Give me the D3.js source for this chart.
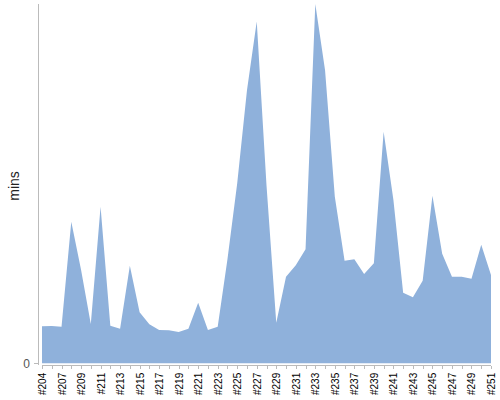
<!DOCTYPE html>
<html>
<head>
<meta charset="utf-8">
<script src="https://cdn.jsdelivr.net/npm/d3@7"></script>
<style>
  body { margin: 0; background: #fff; }
  svg { font-family: Arial, "Liberation Sans", sans-serif; }
  .axis path, .axis line { stroke: #bbb; shape-rendering: crispEdges; }
</style>
</head>
<body>
<div id="chart"></div>
<script>
'use strict';

// build numbers along the x axis (one is skipped after #204)
var builds = ['#204', '#205'];
for (var b = 207; b <= 251; b++) builds.push('#' + b);

// duration of each build, in minutes
var mins = [
  18.5, 18.7, 18.3, 70.8, 46.7, 19.7, 78.3, 18.8, 17.3, 48.7,
  25.5, 19.5, 16.7, 16.5, 15.7, 17.3, 30.3, 16.7, 18.3, 52.0,
  90.0, 136.5, 170.8, 89.0, 20.3, 43.3, 49.0, 57.0, 179.6, 146.5,
  83.3, 51.3, 52.0, 44.7, 50.0, 115.8, 81.7, 35.3, 33.0, 41.3,
  83.7, 54.7, 43.3, 43.3, 42.3, 59.2, 44.2
];

var yTicks = [0];
var yLabel = 'mins';

var margin = {top: 4, right: 9, bottom: 36.7, left: 38};
var width = 500 - margin.left - margin.right;
var height = 400 - margin.top - margin.bottom;

var data = builds.map(function (d, i) {
  return {build: d, value: mins[i]};
});

var svg = d3.select('#chart')
  .append('svg')
  .attr('width', 500)
  .attr('height', 400);

var g = svg.append('g')
  .attr('transform', 'translate(' + margin.left + ',' + margin.top + ')');

var x = d3.scalePoint()
  .domain(builds)
  .range([4, width]);

var y = d3.scaleLinear()
  .domain([0, d3.max(mins)])
  .range([height, 0]);

// the area itself
var area = d3.area()
  .x(function (d) { return x(d.build); })
  .y0(y(0))
  .y1(function (d) { return y(d.value); });

g.append('path')
  .datum(data)
  .attr('fill', '#8fb1db')
  .attr('d', area);

// x axis, every other label
var xAxis = g.append('g')
  .attr('class', 'axis')
  .attr('transform', 'translate(0,' + (height + 2.5) + ')')
  .call(d3.axisBottom(x)
    .tickSize(3)
    .tickSizeOuter(0)
    .tickFormat(function (d, i) { return i % 2 === 0 ? d : ''; }));

xAxis.select('.domain').attr('d', 'M' + x(builds[0]) + ',0H' + x(builds[builds.length - 1]));

xAxis.selectAll('text')
  .attr('fill', '#000')
  .style('font-size', '10px')
  .attr('transform', 'rotate(-90)')
  .attr('text-anchor', 'end')
  .attr('x', -7)
  .attr('y', 0)
  .attr('dy', '0.35em');

// y axis, only the zero tick
var yAxis = g.append('g')
  .attr('class', 'axis')
  .call(d3.axisLeft(y)
    .tickValues(yTicks)
    .tickSize(4)
    .tickSizeOuter(0)
    .tickPadding(4));

yAxis.select('.domain').attr('d', 'M0,0V' + (height + 1.5));

yAxis.selectAll('text')
  .attr('fill', '#555')
  .style('font-size', '12px');

svg.append('text')
  .attr('transform', 'translate(19,' + 186 + ') rotate(-90)')
  .attr('text-anchor', 'middle')
  .attr('fill', '#222')
  .style('font-size', '14px')
  .text(yLabel);
</script>
</body>
</html>
